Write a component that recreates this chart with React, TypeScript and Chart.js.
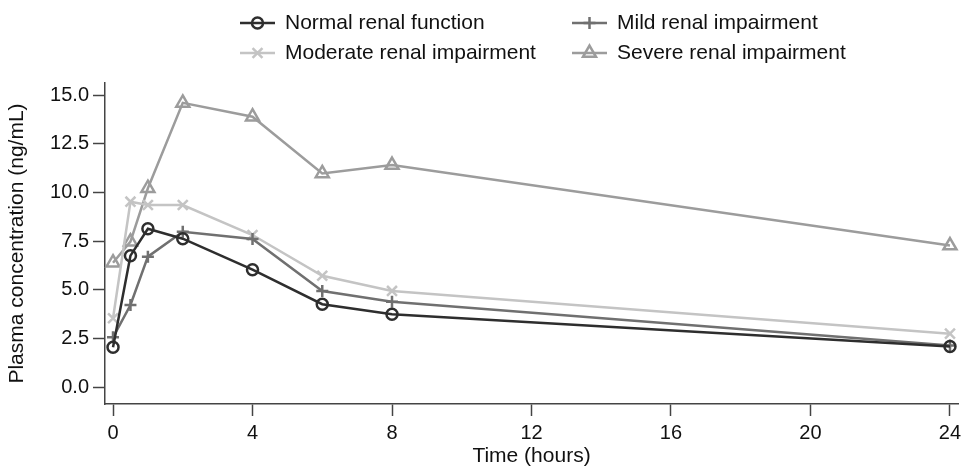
import React, { useEffect, useRef } from 'react';
import { Chart, registerables } from 'chart.js';
import { drawPoint } from 'chart.js/helpers';

Chart.register(...registerables);

// ---- data ----
const times = [0, 0.5, 1, 2, 4, 6, 8, 24];
const normalRenal = [2.06, 6.76, 8.14, 7.63, 6.04, 4.27, 3.75, 2.1];
const mildImpairment = [2.57, 4.23, 6.71, 7.99, 7.62, 4.95, 4.4, 2.15];
const moderateImpairment = [3.55, 9.53, 9.36, 9.36, 7.82, 5.73, 4.95, 2.76];
const severeImpairment = [6.4, 7.48, 10.22, 14.6, 13.89, 10.98, 11.41, 7.28];

const seriesLabels = [
  'Normal renal function',
  'Mild renal impairment',
  'Moderate renal impairment',
  'Severe renal impairment',
];
const xTickValues = [0, 4, 8, 12, 16, 20, 24];
const yTickValues = [0, 2.5, 5, 7.5, 10, 12.5, 15];
const xTitle = 'Time (hours)';
const yTitle = 'Plasma concentration (ng/mL)';

const FONT = "'Liberation Sans', Arial, Helvetica, sans-serif";
const AXIS_COLOR = '#444444';

const toPoints = (vals: number[]) => vals.map((v, i) => ({ x: times[i], y: v }));

const legendPlugin = {
  id: 'gridLegend',
  afterDraw(chart: any, _args: any, opts: any) {
    const ctx = chart.ctx;
    ctx.save();
    opts.items.forEach((item: any) => {
      const ds = chart.data.datasets[item.datasetIndex];
      const y = item.y;
      const x0 = item.x;
      const x1 = item.x + opts.lineLength;
      ctx.strokeStyle = ds.borderColor;
      ctx.lineWidth = ds.borderWidth;
      ctx.beginPath();
      ctx.moveTo(x0, y);
      ctx.lineTo(x1, y);
      ctx.stroke();
      ctx.fillStyle = ds.pointBackgroundColor;
      ctx.strokeStyle = ds.pointBorderColor;
      ctx.lineWidth = ds.pointBorderWidth;
      drawPoint(
        ctx,
        { pointStyle: ds.pointStyle, radius: ds.pointRadius, borderWidth: ds.pointBorderWidth, rotation: 0 } as any,
        (x0 + x1) / 2,
        y
      );
      ctx.fillStyle = opts.color;
      ctx.font = opts.font;
      ctx.textBaseline = 'middle';
      ctx.textAlign = 'left';
      ctx.fillText(ds.label, x1 + opts.gap, y);
    });
    ctx.restore();
  },
};

export default function App() {
  const ref = useRef<HTMLCanvasElement | null>(null);

  useEffect(() => {
    if (!ref.current) return;
    const mk = (label: string, vals: number[], color: string, style: string, radius: number) => ({
      label,
      data: toPoints(vals),
      borderColor: color,
      borderWidth: 2.5,
      pointStyle: style,
      pointRadius: radius,
      pointBorderWidth: 2.5,
      pointBorderColor: color,
      pointBackgroundColor: 'rgba(255,255,255,0)',
      tension: 0,
      fill: false,
      clip: 12,
    });
    const chart = new Chart(ref.current, {
      type: 'line',
      data: {
        datasets: [
          mk(seriesLabels[0], normalRenal, '#2e2e2e', 'circle', 5.5),
          mk(seriesLabels[1], mildImpairment, '#707070', 'cross', 6),
          mk(seriesLabels[2], moderateImpairment, '#c4c4c4', 'crossRot', 7),
          mk(seriesLabels[3], severeImpairment, '#9c9c9c', 'triangle', 7.5),
        ] as any,
      },
      options: {
        animation: false,
        responsive: false,
        devicePixelRatio: 1,
        events: [],
        layout: { autoPadding: false, padding: { top: 83, left: 0, right: 3, bottom: 0 } },
        plugins: {
          legend: { display: false },
          tooltip: { enabled: false },
          gridLegend: {
            lineLength: 35,
            gap: 10,
            color: '#111111',
            font: `21px ${FONT}`,
            items: [
              { datasetIndex: 0, x: 240, y: 23 },
              { datasetIndex: 1, x: 572, y: 23 },
              { datasetIndex: 2, x: 240, y: 53 },
              { datasetIndex: 3, x: 572, y: 53 },
            ],
          },
        } as any,
        scales: {
          x: {
            type: 'linear',
            min: -0.23,
            max: 24.23,
            afterBuildTicks: (s: any) => {
              s.ticks = xTickValues.map((v) => ({ value: v }));
            },
            afterFit: (s: any) => {
              s.height = 65;
              s.paddingLeft = 0;
              s.paddingRight = 0;
            },
            ticks: {
              color: '#111111',
              font: { family: FONT, size: 20 },
              padding: 5,
              maxRotation: 0,
              autoSkip: false,
            },
            grid: {
              drawOnChartArea: false,
              drawTicks: true,
              tickLength: 12,
              tickColor: AXIS_COLOR,
              tickWidth: 1.5,
            },
            border: { display: true, color: AXIS_COLOR, width: 1.5 },
            title: {
              display: true,
              text: xTitle,
              color: '#111111',
              font: { family: FONT, size: 21 },
              padding: { top: 0, bottom: 0 },
            },
          },
          y: {
            type: 'linear',
            min: -0.85,
            max: 15.62,
            afterBuildTicks: (s: any) => {
              s.ticks = yTickValues.map((v) => ({ value: v }));
            },
            afterFit: (s: any) => {
              s.width = 105;
              s.paddingTop = 0;
              s.paddingBottom = 0;
            },
            ticks: {
              color: '#111111',
              font: { family: FONT, size: 20 },
              padding: 4,
              callback: (v: any) => Number(v).toFixed(1),
            },
            grid: {
              drawOnChartArea: false,
              drawTicks: true,
              tickLength: 12,
              tickColor: AXIS_COLOR,
              tickWidth: 1.5,
            },
            border: { display: true, color: AXIS_COLOR, width: 1.5 },
            title: {
              display: true,
              text: yTitle,
              color: '#111111',
              font: { family: FONT, size: 21 },
              padding: { top: 5, bottom: 0 },
            },
          },
        },
      },
      plugins: [legendPlugin as any],
    });
    return () => chart.destroy();
  }, []);

  return (
    <div style={{ position: 'fixed', left: 0, top: 0, width: 961, height: 469, overflow: 'hidden', background: '#ffffff' }}>
      <canvas ref={ref} width={961} height={469} style={{ width: 961, height: 469, display: 'block' }} />
    </div>
  );
}
